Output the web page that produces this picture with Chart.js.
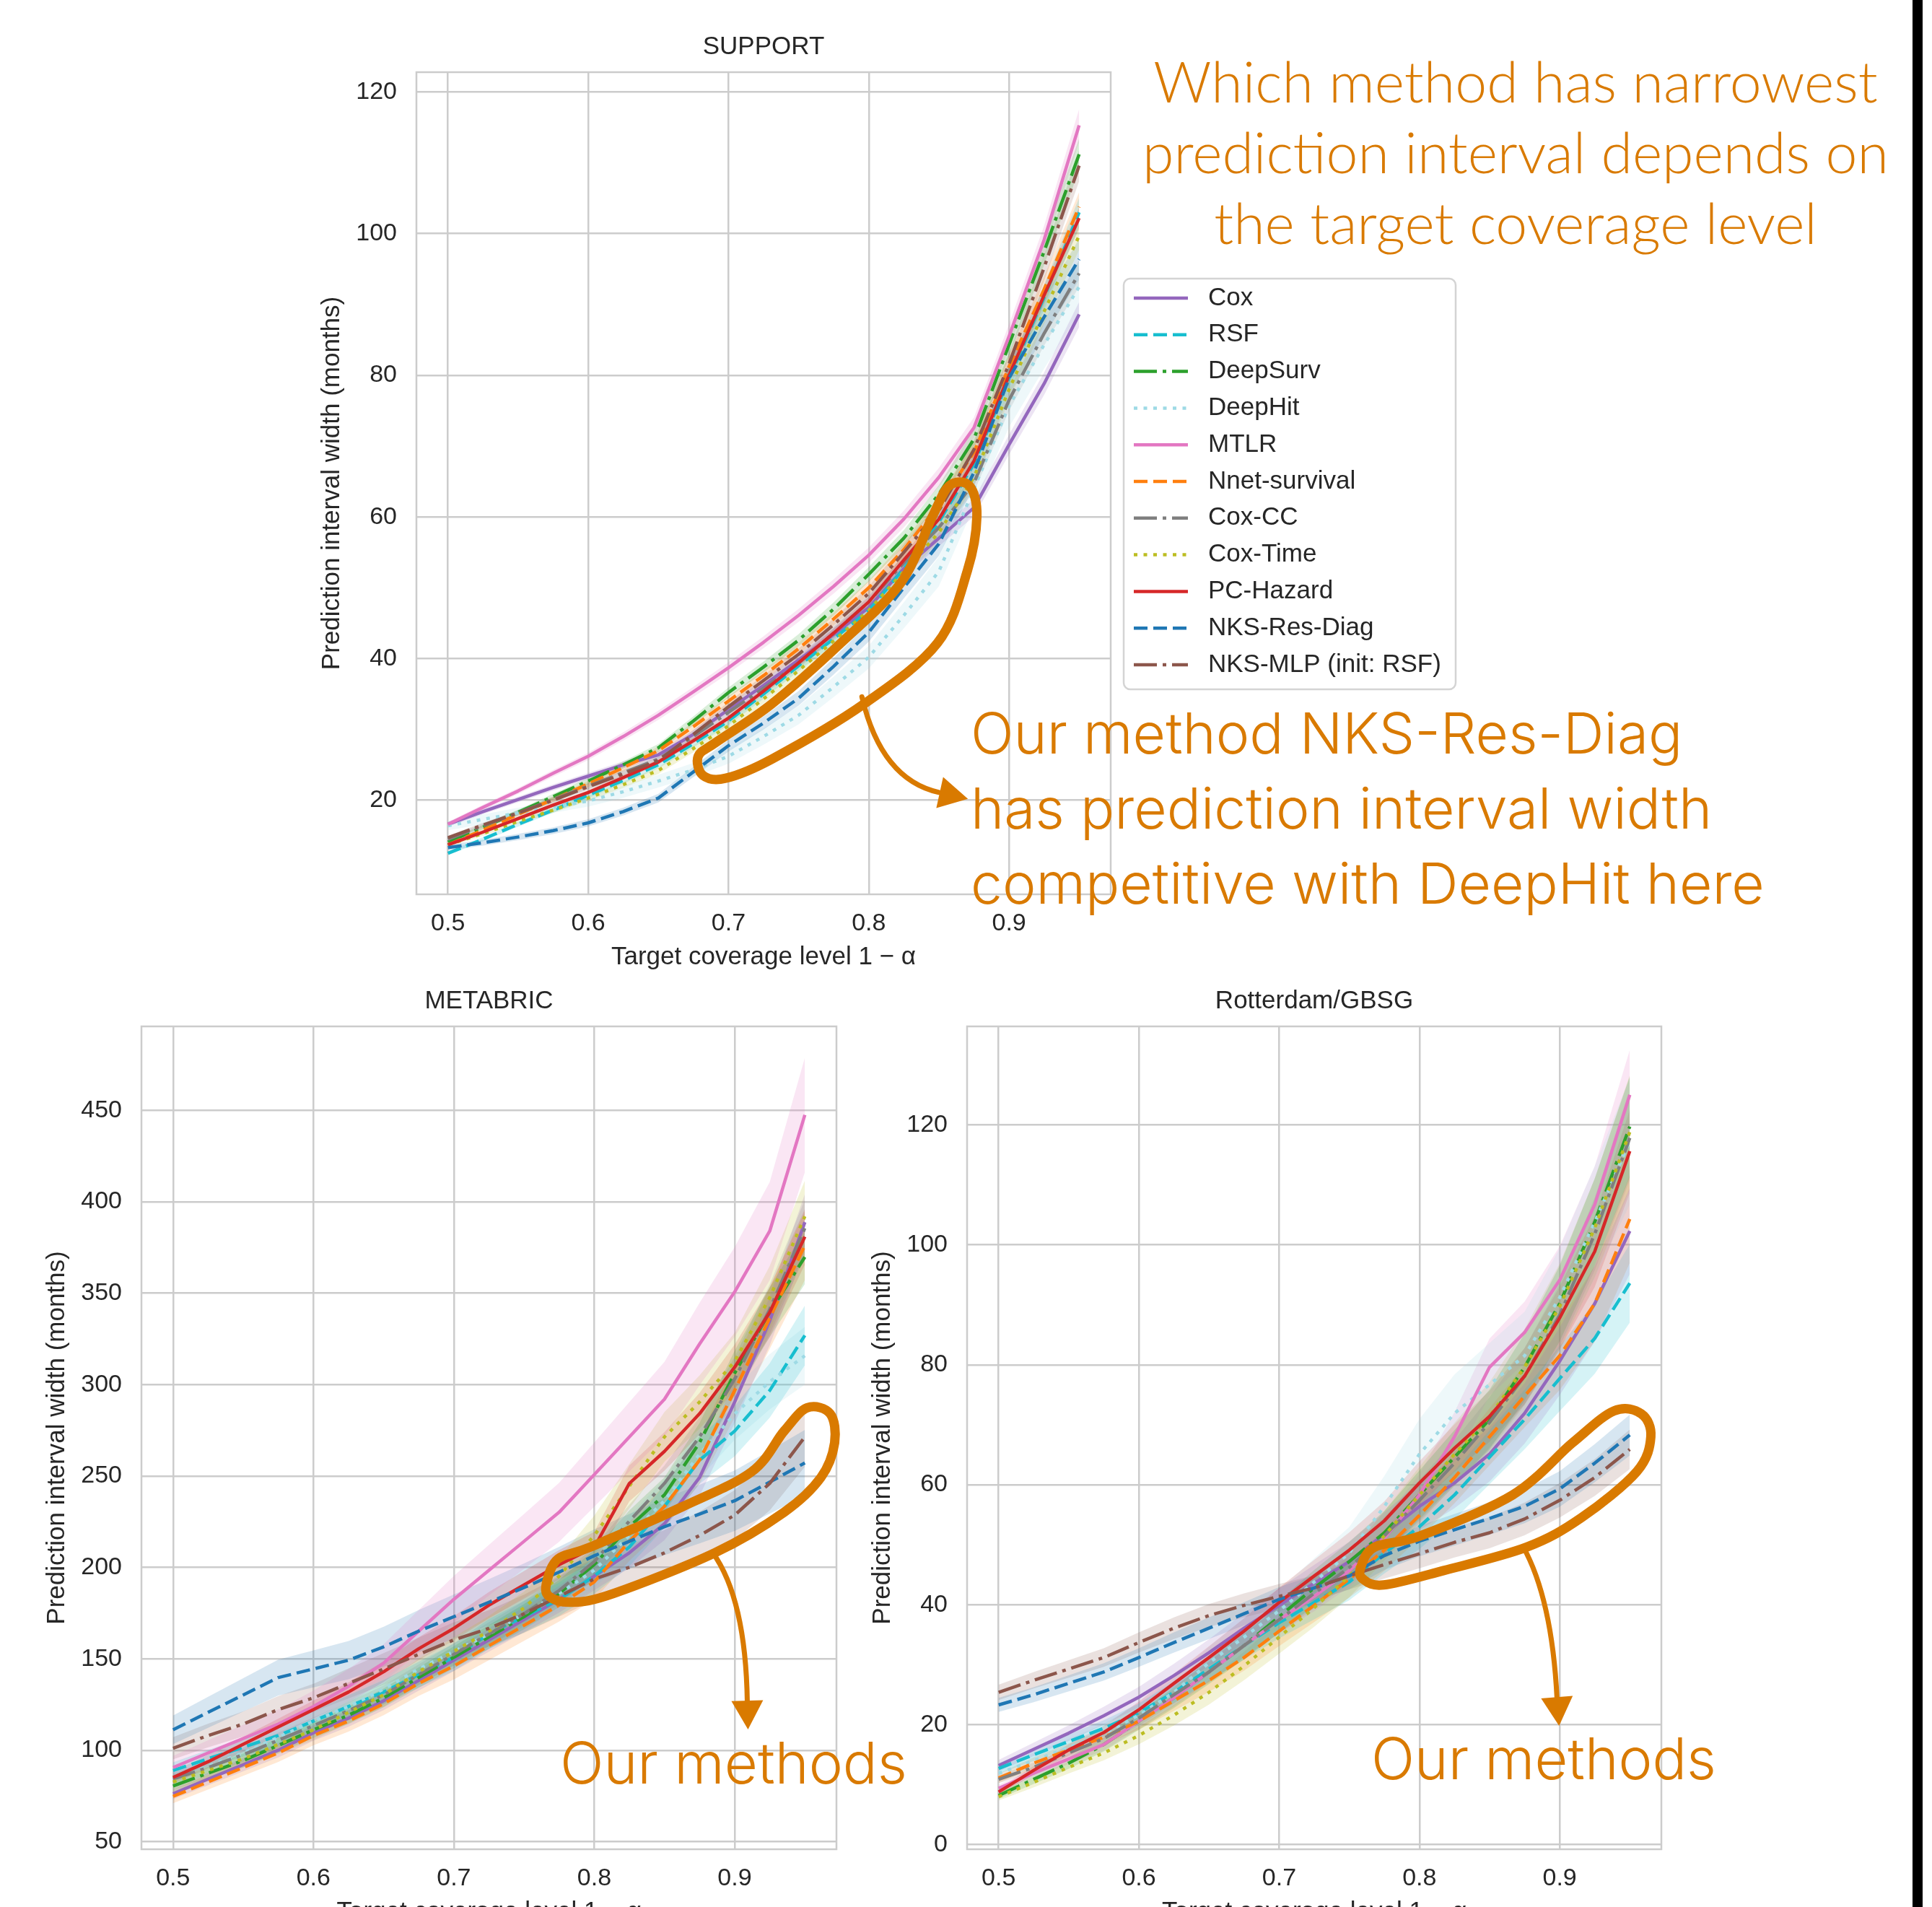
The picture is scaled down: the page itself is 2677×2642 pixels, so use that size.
<!DOCTYPE html>
<html>
<head>
<meta charset="utf-8">
<script src="https://cdn.jsdelivr.net/npm/chart.js@4.4.1/dist/chart.umd.min.js"></script>
<style>
  html, body { margin: 0; padding: 0; background: #fff; overflow: hidden; }
  #page { position: relative; width: 2677px; height: 2642px; overflow: hidden; background: #fff; }
  #page canvas { position: absolute; left: 0; top: 0; }
  #edge { position: absolute; left: 2650px; top: 0; width: 14px; height: 2642px; background: #000; }
</style>
</head>
<body>
<div id="page">
  <canvas id="supportChart" width="2677" height="2700"></canvas>
  <canvas id="metabricChart" width="2677" height="2700"></canvas>
  <canvas id="rotterdamChart" width="2677" height="2700"></canvas>
  <div id="edge"></div>
</div>
<script>
// target coverage levels (x values)
const coverage = [0.5, 0.525, 0.55, 0.575, 0.6, 0.625, 0.65, 0.675, 0.7, 0.725, 0.75, 0.775, 0.8, 0.825, 0.85, 0.875, 0.9, 0.925, 0.95];

const methods = ['Cox', 'RSF', 'DeepSurv', 'DeepHit', 'MTLR', 'Nnet-survival', 'Cox-CC', 'Cox-Time', 'PC-Hazard', 'NKS-Res-Diag', 'NKS-MLP (init: RSF)'];

const xTickValues = [0.5, 0.6, 0.7, 0.8, 0.9];
const supportYTicks = [20, 40, 60, 80, 100, 120];
const metabricYTicks = [50, 100, 150, 200, 250, 300, 350, 400, 450];
const rotterdamYTicks = [0, 20, 40, 60, 80, 100, 120];

// SUPPORT
const supportCox = [16.6, 18.4, 20.1, 21.8, 23.4, 25.0, 26.4, 29.3, 32.8, 36.2, 39.8, 43.4, 47.2, 52.7, 57.0, 61.3, 70.2, 78.8, 88.6];
const supportRSF = [12.5, 14.5, 16.6, 18.6, 20.7, 22.8, 25.0, 28.0, 31.2, 35.0, 39.0, 42.8, 46.8, 52.7, 59.3, 67.5, 79.6, 91.0, 103.0];
const supportDeepSurv = [14.1, 16.2, 18.3, 20.5, 22.7, 25.0, 27.4, 31.2, 35.2, 38.8, 42.6, 47.0, 51.9, 57.0, 63.2, 71.0, 84.3, 97.5, 111.2];
const supportDeepHit = [16.4, 17.3, 18.2, 19.0, 19.9, 21.2, 22.7, 24.3, 26.2, 29.0, 32.0, 36.0, 40.2, 46.1, 52.3, 64.0, 75.7, 84.3, 92.5];
const supportMTLR = [16.6, 19.0, 21.3, 23.8, 26.2, 29.0, 32.0, 35.3, 38.7, 42.3, 46.1, 50.2, 54.6, 59.7, 65.6, 72.6, 85.5, 99.1, 115.3];
const supportNnet = [13.7, 15.8, 18.0, 20.1, 22.3, 24.6, 27.0, 30.4, 34.0, 37.6, 41.4, 45.6, 50.0, 55.4, 61.7, 69.1, 81.2, 92.1, 103.8];
const supportCoxCC = [14.5, 16.4, 18.2, 20.1, 22.0, 23.9, 25.8, 29.0, 32.4, 35.8, 39.4, 43.6, 48.0, 53.5, 58.5, 64.8, 76.5, 85.9, 94.4];
const supportCoxTime = [13.7, 15.3, 17.0, 18.6, 20.3, 22.2, 24.2, 27.3, 30.5, 34.3, 38.3, 42.5, 46.8, 52.3, 57.8, 65.6, 78.0, 89.0, 99.7];
const supportPCHazard = [13.7, 15.5, 17.4, 19.3, 21.1, 23.2, 25.4, 28.4, 31.6, 35.4, 39.4, 43.6, 48.0, 53.9, 59.7, 67.9, 80.0, 91.3, 102.2];
const supportNKSResDiag = [13.3, 14.0, 14.8, 15.7, 16.8, 18.4, 20.3, 24.0, 27.7, 30.9, 34.4, 38.9, 43.7, 50.0, 56.2, 66.3, 79.6, 88.2, 96.4];
const supportNKSMLP = [14.7, 16.5, 18.2, 20.0, 21.9, 23.7, 25.6, 29.3, 33.2, 36.9, 40.6, 44.8, 49.2, 55.0, 60.9, 69.5, 81.6, 95.2, 109.6];
const supportBand = [0.02, 0.02, 0.02, 0.04, 0.02, 0.02, 0.02, 0.02, 0.015, 0.03, 0.02];

// METABRIC
const metabricCox = [76.3, 84.3, 92.2, 100.1, 109.6, 117.6, 127.1, 138.2, 149.3, 160.4, 171.5, 182.6, 195.3, 208.0, 223.9, 249.2, 290.5, 334.9, 388.8];
const metabricRSF = [89.0, 95.4, 101.7, 108.1, 116.0, 124.0, 131.9, 141.4, 150.9, 163.6, 173.1, 182.6, 195.3, 211.2, 233.4, 258.7, 274.6, 296.8, 326.9];
const metabricDeepSurv = [80.5, 87.5, 94.4, 102.7, 111.2, 119.2, 128.7, 139.8, 150.9, 162.0, 173.1, 185.8, 201.6, 222.3, 239.7, 268.3, 306.3, 339.6, 369.8];
const metabricDeepHit = [84.3, 91.3, 98.6, 107.1, 116.0, 124.0, 133.5, 144.5, 154.1, 163.6, 174.7, 185.8, 198.5, 217.5, 236.5, 262.0, 284.0, 301.6, 315.8];
const metabricMTLR = [90.6, 98.6, 106.5, 114.4, 124.0, 135.0, 147.7, 165.2, 182.6, 198.5, 214.3, 230.2, 250.8, 271.4, 292.0, 322.2, 350.7, 384.0, 447.5];
const metabricNnet = [74.8, 82.7, 90.6, 98.6, 108.1, 116.0, 125.5, 136.6, 146.1, 157.2, 168.3, 179.4, 192.1, 214.3, 233.4, 258.7, 296.8, 336.5, 376.1];
const metabricCoxCC = [84.3, 90.6, 97.6, 105.5, 113.5, 121.7, 130.3, 141.4, 152.5, 163.6, 174.7, 187.4, 203.2, 225.4, 246.0, 271.4, 303.1, 341.2, 385.6];
const metabricCoxTime = [82.7, 89.0, 95.4, 103.3, 111.2, 120.8, 130.3, 143.0, 154.1, 165.2, 177.9, 195.3, 217.5, 244.5, 271.4, 290.5, 312.7, 347.6, 392.0];
const metabricPCHazard = [85.2, 93.8, 103.3, 112.8, 122.3, 131.9, 143.0, 155.6, 166.7, 179.4, 190.5, 201.5, 211.0, 246.0, 263.5, 284.1, 309.5, 339.6, 380.9];
const metabricNKSResDiag = [111.2, 120.8, 130.3, 139.8, 144.5, 149.3, 156.6, 165.2, 173.1, 181.0, 189.0, 197.5, 206.4, 214.3, 222.3, 229.2, 236.5, 246.7, 257.2];
const metabricNKSMLP = [101.1, 108.1, 114.4, 122.3, 128.7, 136.6, 144.5, 152.5, 160.4, 166.7, 174.7, 184.2, 193.7, 200.1, 208.0, 217.5, 228.6, 246.0, 271.4];
const metabricBand = [0.04, 0.05, 0.04, 0.05, 0.07, 0.05, 0.04, 0.05, 0.04, 0.07, 0.06];

// Rotterdam/GBSG
const rotterdamCox = [13.2, 15.9, 18.6, 21.5, 24.6, 28.2, 32.0, 36.1, 39.9, 43.6, 47.2, 51.8, 56.4, 60.3, 65.1, 71.9, 80.6, 90.2, 102.3];
const rotterdamRSF = [12.7, 15.0, 17.2, 19.4, 22.0, 25.4, 29.3, 33.2, 37.0, 40.4, 43.8, 48.6, 53.0, 58.3, 64.6, 70.9, 77.7, 84.4, 93.6];
const rotterdamDeepSurv = [8.2, 10.9, 13.6, 16.7, 20.6, 24.5, 28.8, 33.2, 38.0, 42.8, 47.2, 52.0, 58.3, 64.6, 70.9, 79.6, 90.2, 103.8, 119.7];
const rotterdamDeepHit = [11.9, 14.0, 16.2, 18.5, 21.6, 25.4, 30.3, 34.6, 39.0, 43.8, 48.6, 56.4, 65.1, 71.9, 76.7, 81.5, 91.2, 103.8, 117.3];
const rotterdamMTLR = [9.4, 11.9, 14.3, 16.7, 20.6, 24.5, 28.8, 33.2, 37.5, 41.4, 45.7, 51.1, 58.3, 68.0, 79.6, 85.4, 94.1, 106.7, 125.0];
const rotterdamNnet = [11.1, 13.6, 15.8, 17.9, 20.6, 24.0, 27.4, 31.2, 35.6, 39.9, 44.3, 49.1, 54.9, 61.2, 68.0, 74.8, 81.5, 90.2, 104.3];
const rotterdamCoxCC = [10.9, 12.9, 15.3, 17.7, 21.1, 25.0, 28.8, 33.2, 37.5, 41.9, 46.2, 51.5, 57.4, 63.6, 70.4, 78.1, 88.3, 101.8, 117.8];
const rotterdamCoxTime = [8.0, 10.4, 12.9, 15.3, 18.2, 21.6, 25.4, 29.8, 34.6, 39.5, 44.8, 51.5, 58.3, 65.1, 71.4, 79.6, 89.7, 102.8, 118.8];
const rotterdamPCHazard = [8.8, 12.4, 15.8, 18.7, 22.5, 26.9, 31.2, 35.6, 40.4, 44.8, 49.1, 54.0, 60.3, 66.1, 71.4, 78.1, 87.8, 98.9, 115.6];
const rotterdamNKSResDiag = [23.3, 25.0, 26.9, 28.8, 31.2, 33.7, 36.1, 38.5, 40.9, 42.8, 44.8, 48.2, 50.6, 52.5, 54.4, 56.4, 59.3, 63.6, 68.3];
const rotterdamNKSMLP = [25.4, 27.4, 29.3, 31.2, 33.7, 36.1, 38.2, 39.9, 41.4, 42.8, 44.8, 46.7, 48.5, 50.4, 52.0, 54.3, 57.4, 61.2, 65.9];
const rotterdamBand = [0.07, 0.07, 0.07, 0.09, 0.06, 0.07, 0.06, 0.08, 0.06, 0.05, 0.05];

// styles
const colors = ['#9467bd', '#17becf', '#2ca02c', '#9edae5', '#e377c2', '#ff7f0e', '#7f7f7f', '#bcbd22', '#d62728', '#1f77b4', '#8c564b'];
const DASHED = [19, 8], DASHDOT = [32, 8, 5, 8], DOTTED = [5, 8.5];
const dashes = [[], DASHED, DASHDOT, DOTTED, [], DASHED, DASHDOT, DOTTED, [], DASHED, DASHDOT];
const orange = '#d97a00';
const textFont = "'Liberation Sans', Arial, Helvetica, sans-serif";

Chart.defaults.font.family = textFont;
Chart.defaults.color = '#262626';

function rgba(hex, a) {
    const n = parseInt(hex.slice(1), 16);
    return `rgba(${(n >> 16) & 255},${(n >> 8) & 255},${n & 255},${a})`;
}

function buildDatasets(series, bandPct) {
    const sets = [];
    methods.forEach((name, i) => {
        const vals = series[i];
        sets.push({
            label: name + ' upper', isBand: true, order: 100 + i,
            data: coverage.map((x, j) => ({ x: x, y: vals[j] * (1 + bandPct[i]) })),
            borderColor: 'rgba(0,0,0,0)', borderWidth: 0, pointRadius: 0, fill: false
        });
        sets.push({
            label: name + ' lower', isBand: true, order: 100 + i,
            data: coverage.map((x, j) => ({ x: x, y: vals[j] * (1 - bandPct[i]) })),
            borderColor: 'rgba(0,0,0,0)', borderWidth: 0, pointRadius: 0,
            fill: '-1', backgroundColor: rgba(colors[i], 0.18)
        });
    });
    methods.forEach((name, i) => {
        sets.push({
            label: name, order: 20 - i,
            data: coverage.map((x, j) => ({ x: x, y: series[i][j] })),
            borderColor: colors[i], borderDash: dashes[i], borderWidth: 4.5,
            borderJoinStyle: 'round', pointRadius: 0, fill: false, tension: 0
        });
    });
    return sets;
}

// closed smooth curve through points (catmull-rom)
function smoothClosed(ctx, pts) {
    const n = pts.length;
    ctx.beginPath();
    ctx.moveTo(pts[0].x, pts[0].y);
    for (let i = 0; i < n; i++) {
        const p0 = pts[(i - 1 + n) % n], p1 = pts[i], p2 = pts[(i + 1) % n], p3 = pts[(i + 2) % n];
        ctx.bezierCurveTo(
            p1.x + (p2.x - p0.x) / 6, p1.y + (p2.y - p0.y) / 6,
            p2.x - (p3.x - p1.x) / 6, p2.y - (p3.y - p1.y) / 6,
            p2.x, p2.y);
    }
    ctx.closePath();
}

function toPx(chart, p) {
    return { x: chart.scales.x.getPixelForValue(p[0]), y: chart.scales.y.getPixelForValue(p[1]) };
}

function drawLoop(chart, loop) {
    const ctx = chart.ctx;
    ctx.save();
    ctx.strokeStyle = orange;
    ctx.lineWidth = 13;
    ctx.lineJoin = 'round';
    smoothClosed(ctx, loop.map(p => toPx(chart, p)));
    ctx.stroke();
    ctx.restore();
}

function drawArrow(chart, arrow) {
    const ctx = chart.ctx;
    const [p0, c, p1, tip] = arrow.map(p => toPx(chart, p));
    ctx.save();
    ctx.strokeStyle = orange;
    ctx.fillStyle = orange;
    ctx.lineWidth = 7;
    ctx.lineCap = 'round';
    ctx.beginPath();
    ctx.moveTo(p0.x, p0.y);
    ctx.quadraticCurveTo(c.x, c.y, p1.x, p1.y);
    ctx.stroke();
    const ang = Math.atan2(tip.y - p1.y, tip.x - p1.x);
    const bx = tip.x - Math.cos(ang) * 40, by = tip.y - Math.sin(ang) * 40;
    ctx.beginPath();
    ctx.moveTo(tip.x, tip.y);
    ctx.lineTo(bx + Math.sin(ang) * 22, by - Math.cos(ang) * 22);
    ctx.lineTo(bx - Math.sin(ang) * 22, by + Math.cos(ang) * 22);
    ctx.closePath();
    ctx.fill();
    ctx.restore();
}

function drawTextBlock(ctx, block) {
    ctx.save();
    ctx.font = `${block.weight} 100px ${block.family}`;
    const size = 100 * block.fitWidth / ctx.measureText(block.lines[block.fitLine]).width;
    ctx.font = `${block.weight} ${size}px ${block.family}`;
    ctx.fillStyle = orange;
    ctx.textAlign = block.align;
    ctx.textBaseline = 'alphabetic';
    block.lines.forEach((t, i) => ctx.fillText(t, block.x, block.baselines[i]));
    ctx.restore();
}

function drawLegend(chart) {
    const ctx = chart.ctx;
    ctx.save();
    ctx.beginPath();
    ctx.roundRect(1557, 386, 460, 569, 9);
    ctx.fillStyle = 'rgba(255,255,255,0.85)';
    ctx.fill();
    ctx.strokeStyle = '#d4d4d4';
    ctx.lineWidth = 2.5;
    ctx.stroke();
    ctx.font = `35px ${textFont}`;
    ctx.textBaseline = 'middle';
    chart.data.datasets.filter(d => !d.isBand).forEach((d, i) => {
        const y = 413 + i * 50.8;
        ctx.beginPath();
        ctx.setLineDash(d.borderDash);
        ctx.strokeStyle = d.borderColor;
        ctx.lineWidth = d.borderWidth;
        ctx.moveTo(1571, y);
        ctx.lineTo(1646, y);
        ctx.stroke();
        ctx.setLineDash([]);
        ctx.fillStyle = '#262626';
        ctx.fillText(d.label, 1674, y);
    });
    ctx.restore();
}

function decorPlugin(title, extras) {
    return {
        id: 'decor',
        beforeDatasetsDraw(chart) {
            const a = chart.chartArea, ctx = chart.ctx;
            ctx.save();
            ctx.strokeStyle = '#cccccc';
            ctx.lineWidth = 2.5;
            ctx.strokeRect(a.left, a.top, a.right - a.left, a.bottom - a.top);
            ctx.restore();
        },
        afterDraw(chart) {
            const a = chart.chartArea, ctx = chart.ctx;
            ctx.save();
            ctx.font = `35px ${textFont}`;
            ctx.fillStyle = '#262626';
            ctx.textAlign = 'center';
            ctx.textBaseline = 'middle';
            ctx.fillText(title, (a.left + a.right) / 2, a.top - 35);
            ctx.restore();
            if (extras) extras(chart);
        }
    };
}

const Y_AXIS_W = 138, X_AXIS_H = 108;

function makeChart(id, series, bandPct, yTicks, yMin, yMax, area, title, extras) {
    return new Chart(document.getElementById(id), {
        type: 'line',
        data: { datasets: buildDatasets(series, bandPct) },
        options: {
            responsive: false,
            animation: false,
            devicePixelRatio: 1,
            events: [],
            layout: {
                padding: {
                    left: area.left - Y_AXIS_W,
                    top: area.top,
                    right: 2677 - area.right,
                    bottom: 2700 - area.bottom - X_AXIS_H
                }
            },
            plugins: { legend: { display: false }, tooltip: { enabled: false }, title: { display: false } },
            scales: {
                x: {
                    type: 'linear', min: 0.4775, max: 0.9725,
                    afterBuildTicks: s => { s.ticks = xTickValues.map(v => ({ value: v })); },
                    afterFit: s => { s.height = X_AXIS_H; },
                    grid: { color: '#cccccc', lineWidth: 2.5, drawTicks: false },
                    border: { display: false },
                    ticks: { padding: 20, font: { size: 34 }, color: '#262626', maxRotation: 0, callback: v => Number(v).toFixed(1) },
                    title: { display: true, text: 'Target coverage level 1 − α', font: { size: 35 }, color: '#262626', padding: 0 }
                },
                y: {
                    type: 'linear', min: yMin, max: yMax,
                    afterBuildTicks: s => { s.ticks = yTicks.map(v => ({ value: v })); },
                    afterFit: s => { s.width = Y_AXIS_W; },
                    grid: { color: '#cccccc', lineWidth: 2.5, drawTicks: false },
                    border: { display: false },
                    ticks: { padding: 27, font: { size: 34 }, color: '#262626', callback: v => String(v) },
                    title: { display: true, text: 'Prediction interval width (months)', font: { size: 35 }, color: '#262626', padding: 0 }
                }
            }
        },
        plugins: [decorPlugin(title, extras)]
    });
}

// annotation shapes, in data coordinates of each panel
const supportLoop = [[0.6818, 23.5], [0.6784, 26.2], [0.6913, 28.2], [0.7309, 33.6], [0.7802, 42.2], [0.8229, 50.7],
    [0.8455, 60.1], [0.8573, 64.4], [0.8717, 64.4], [0.8771, 60.1], [0.8703, 52.4], [0.849, 42.2], [0.7967, 33.6],
    [0.7309, 25.8], [0.698, 23.1]];
const supportArrow = [[0.7951, 34.6], [0.809, 22.9], [0.8501, 21.1], [0.8707, 20.2]];

const metabricLoop = [[0.7662, 192.1], [0.7743, 204.8], [0.7973, 211.2], [0.863, 233.3], [0.9122, 252.4], [0.9352, 274.6],
    [0.9516, 287.3], [0.968, 284.1], [0.9712, 268.2], [0.9614, 249.2], [0.9352, 230.2], [0.8858, 208.0], [0.8138, 185.8],
    [0.7842, 181.0], [0.7678, 184.2]];
const metabricArrow = [[0.8843, 208.2], [0.9079, 182.9], [0.909, 126.4], [0.9095, 111.4]];

const rotterdamLoop = [[0.7582, 46.2], [0.768, 49.6], [0.8009, 51.5], [0.8665, 58.3], [0.9092, 67.0], [0.9387, 72.3],
    [0.9583, 71.8], [0.965, 68.0], [0.955, 62.2], [0.9155, 54.5], [0.8765, 49.6], [0.8173, 45.7], [0.7746, 43.3],
    [0.7597, 44.3]];
const rotterdamArrow = [[0.8739, 49.7], [0.8945, 41.0], [0.8981, 24.4], [0.8996, 19.8]];

const gillFamily = "Lato, 'Open Sans', sans-serif";
const lightFamily = "Inter, Roboto, 'Liberation Sans', Arial, sans-serif";

makeChart('supportChart',
    [supportCox, supportRSF, supportDeepSurv, supportDeepHit, supportMTLR, supportNnet, supportCoxCC, supportCoxTime, supportPCHazard, supportNKSResDiag, supportNKSMLP],
    supportBand, supportYTicks, 6.71, 122.8,
    { left: 577, top: 100, right: 1539, bottom: 1239 }, 'SUPPORT',
    chart => {
        drawLegend(chart);
        drawLoop(chart, supportLoop);
        drawArrow(chart, supportArrow);
        drawTextBlock(chart.ctx, {
            lines: ['Which method has narrowest', 'prediction interval depends on', 'the target coverage level'],
            family: gillFamily, weight: 300, fitLine: 1, fitWidth: 1034, align: 'center', x: 2100, baselines: [142, 240, 338]
        });
        drawTextBlock(chart.ctx, {
            lines: ['Our method NKS-Res-Diag', 'has prediction interval width', 'competitive with DeepHit here'],
            family: lightFamily, weight: 300, fitLine: 2, fitWidth: 1100, align: 'left', x: 1345, baselines: [1044, 1148, 1252]
        });
    });

makeChart('metabricChart',
    [metabricCox, metabricRSF, metabricDeepSurv, metabricDeepHit, metabricMTLR, metabricNnet, metabricCoxCC, metabricCoxTime, metabricPCHazard, metabricNKSResDiag, metabricNKSMLP],
    metabricBand, metabricYTicks, 45.9, 495.9,
    { left: 196, top: 1422, right: 1159, bottom: 2562 }, 'METABRIC',
    chart => {
        drawLoop(chart, metabricLoop);
        drawArrow(chart, metabricArrow);
        drawTextBlock(chart.ctx, {
            lines: ['Our methods'], family: lightFamily, weight: 300, fitLine: 0, fitWidth: 481, align: 'left', x: 776, baselines: [2471]
        });
    });

makeChart('rotterdamChart',
    [rotterdamCox, rotterdamRSF, rotterdamDeepSurv, rotterdamDeepHit, rotterdamMTLR, rotterdamNnet, rotterdamCoxCC, rotterdamCoxTime, rotterdamPCHazard, rotterdamNKSResDiag, rotterdamNKSMLP],
    rotterdamBand, rotterdamYTicks, -0.76, 136.4,
    { left: 1340, top: 1422, right: 2302, bottom: 2562 }, 'Rotterdam/GBSG',
    chart => {
        drawLoop(chart, rotterdamLoop);
        drawArrow(chart, rotterdamArrow);
        drawTextBlock(chart.ctx, {
            lines: ['Our methods'], family: lightFamily, weight: 300, fitLine: 0, fitWidth: 478, align: 'left', x: 1900, baselines: [2465]
        });
    });
</script>
</body>
</html>
